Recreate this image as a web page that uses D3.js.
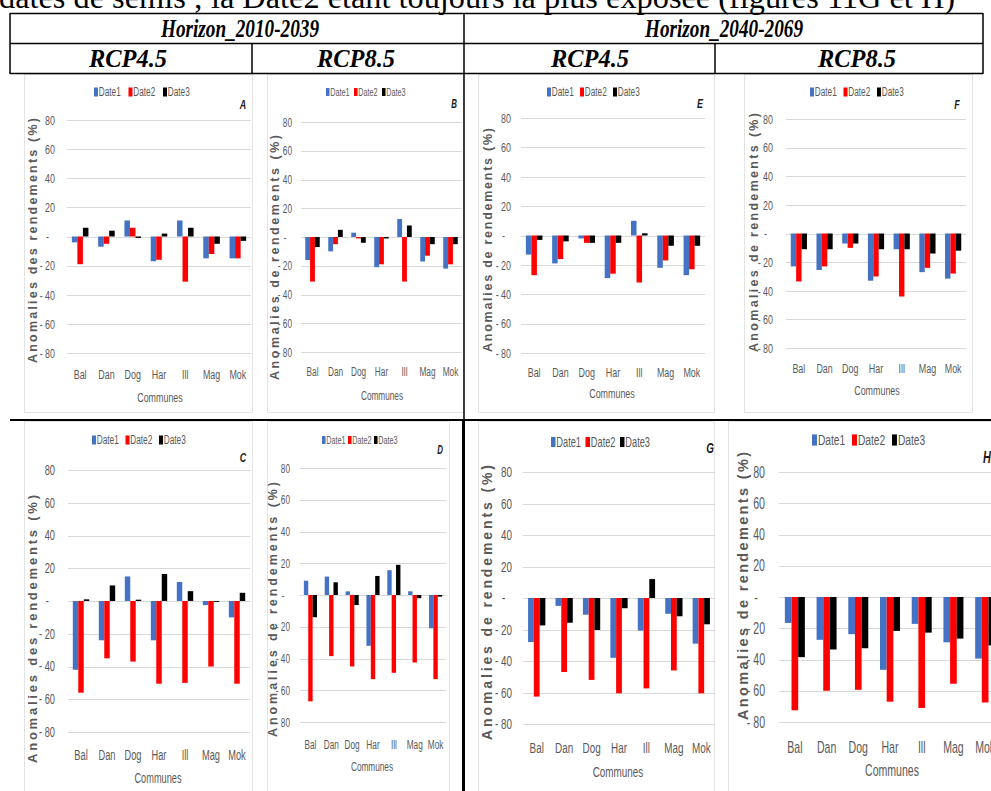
<!DOCTYPE html>
<html>
<head>
<meta charset="utf-8">
<script src="https://d3js.org/d3.v7.min.js"></script>
<style>
body { margin:0; background:#fff; }
svg { display:block; }
.serif { font-family: "Liberation Serif", "Times New Roman", serif; font-weight:bold; font-style:italic; fill:#000; }
.chart text { font-family: "Liberation Sans", Arial, sans-serif; fill:#595959; }
</style>
</head>
<body>
<svg id="fig" width="991" height="791"></svg>
<script>
// categories / series
const communes = ["Bal", "Dan", "Dog", "Har", "Ill", "Mag", "Mok"];
const series = ["Date1", "Date2", "Date3"];
const seriesColors = ["#4472c4", "#ff0000", "#000000"];
const yTicks = [80, 60, 40, 20, 0, -20, -40, -60, -80];

// values: [Date1, Date2, Date3], one entry per commune
const valuesA = [[-4, -7, 11, -17, 11, -15, -15], [-19, -5, 6, -16, -31, -12, -15], [6, 4, -1, 2, 6, -5, -3]];
const valuesB = [[-16, -10, 3, -21, 12.5, -17, -22], [-31, -5, -1, -19, -31, -13, -19], [-7, 5, -4, -1, 8, -5, -5]];
const valuesC = [[-42, -24, 15, -24, 11.6, -2.5, -10], [-56, -35, -37, -50.5, -50, -40, -50.5], [1, 9.5, 0.8, 16.5, 6, -0.6, 5]];
const valuesD = [[9, 11.6, 2.3, -32, 15.6, 2.3, -21], [-67, -38.5, -45, -53, -49, -42.5, -53], [-14, 8, -6.3, 12, 19, -2, -1]];
const valuesE = [[-13, -19, -2, -29, 10, -22, -27], [-27, -16, -5, -26, -32, -17, -23], [-3, -4, -5, -5, 1.5, -7, -7]];
const valuesF = [[-23, -25.5, -7, -33, -11, -27, -31.5], [-33.5, -23, -10, -30, -44, -24, -28], [-11, -11, -7, -11, -11, -14, -12]];
const valuesG = [[-28, -5, -10.6, -38, -20.7, -10, -29], [-62.6, -47, -52, -60.5, -57.4, -46, -60.5], [-17.4, -15.7, -20.3, -6.5, 12, -11.6, -16.7]];
const valuesH = [[-16.6, -27.4, -23.8, -46.6, -17.2, -29, -39.4], [-72.5, -60, -59.4, -67, -71, -55.5, -67.5], [-38.5, -33.6, -32.8, -21.7, -22.8, -26.6, -31]];

const titleDes = "Anomalies des rendements (%)";
const titleDe = "Anomalies de rendements (%)";

// header texts
const caption = "dates de semis ; la Date2 étant toujours la plus exposée (figures 11G et H)";
const horizons = ["Horizon_2010-2039", "Horizon_2040-2069"];
const scenarios = ["RCP4.5", "RCP8.5", "RCP4.5", "RCP8.5"];

// the embedded chart pictures are squeezed sideways
const SQ = 0.66;

// panel layout (pixels)
const panels = [
  {id:"A", values:valuesA, title:titleDes, frame:[24,74,252,412], px:[67,251], yr:[353,120], tickX:55, catY:374, commX:160, commY:397,
   leg:[94,92,34.5], lab:[243,104], tX:33, tY:[118,363], fs:13.5, lfs:12.5, tfs:12.5},
  {id:"B", values:valuesB, title:titleDe, frame:[267,74,463,412], px:[301,462], yr:[352,122], tickX:292, catY:372, commX:382, commY:396,
   leg:[326,92,28], lab:[454,104], tX:275, tY:[135,380], fs:12.5, lfs:11, tfs:12.5},
  {id:"E", values:valuesE, title:titleDe, frame:[478,74,714,412], px:[521,705], yr:[353,118], tickX:511, catY:372, commX:612, commY:393,
   leg:[547,92,33], lab:[700,103], tX:488, tY:[128,352], fs:13.5, lfs:12.5, tfs:12.5},
  {id:"F", values:valuesF, title:titleDe, frame:[744,74,972,412], px:[786,966], yr:[348,119], tickX:773, catY:368, commX:877, commY:390,
   leg:[810,92,33.5], lab:[957,104], tX:754, tY:[113,352], fs:13.5, lfs:12.5, tfs:12.5},
  {id:"C", values:valuesC, title:titleDes, frame:[24,421,252,800], px:[68,250], yr:[732,470], tickX:55, catY:755, commX:158, commY:778,
   leg:[92,440,33.5], lab:[243,457], tX:32, tY:[495,763], fs:14, lfs:12.5, tfs:13},
  {id:"D", values:valuesD, title:titleDe, frame:[267,421,449,800], px:[300,446], yr:[722,468], tickX:290, catY:745, commX:372, commY:767,
   leg:[322,440,26], lab:[440,450], tX:273, tY:[482,737], fs:12.5, lfs:11, tfs:12.5},
  {id:"G", values:valuesG, title:titleDe, frame:[478,421,714,800], px:[523,715], yr:[724,472], tickX:512, catY:748, commX:618, commY:772,
   leg:[551,442,34.5], lab:[710,448], tX:487, tY:[465,740], fs:15, lfs:14, tfs:14},
  {id:"H", values:valuesH, title:titleDe, frame:[728,421,1100,800], px:[779,1001], yr:[722,472], tickX:765, catY:747, commX:892, commY:770,
   leg:[812,440,40], lab:[987,457], tX:743, tY:[452,720], fs:16, lfs:15.5, tfs:14.5}
];

const svg = d3.select("#fig");
svg.append("rect").attr("width", 991).attr("height", 791).attr("fill", "#fff");

function tickLabel(d) {
  if (d === 0) return "-";
  if (d < 0) return "- " + Math.abs(d);
  return String(d);
}

// squeezed text at (x, y)
function sqText(g, x, y, size) {
  return g.append("text")
    .attr("transform", `translate(${x},${y}) scale(${SQ},1)`)
    .attr("dy", "0.35em").attr("font-size", size);
}

function drawPanel(p) {
  const g = svg.append("g").attr("class", "chart");
  const f = p.frame;
  g.append("rect").attr("x", f[0] + 0.5).attr("y", f[1] + 0.5)
    .attr("width", f[2] - f[0]).attr("height", f[3] - f[1])
    .attr("fill", "none").attr("stroke", "#e3e3e3");

  const x0 = d3.scaleBand().domain(communes).range(p.px);
  const groupW = x0.bandwidth() * 0.63;
  const x1 = d3.scaleBand().domain(series).range([0, groupW]);
  const y = d3.scaleLinear().domain([-80, 80]).range(p.yr);

  // gridlines
  g.append("g").selectAll("line").data(yTicks).join("line")
    .attr("x1", p.px[0]).attr("x2", p.px[1])
    .attr("y1", d => Math.round(y(d)) + 0.5).attr("y2", d => Math.round(y(d)) + 0.5)
    .attr("stroke", "#d9d9d9");

  // y tick labels
  const ya = g.append("g").attr("transform", `translate(${p.tickX},0)`)
    .call(d3.axisLeft(y).tickValues(yTicks).tickSize(0).tickPadding(0).tickFormat(tickLabel));
  ya.select(".domain").remove();
  ya.attr("font-size", p.fs).attr("font-family", null);
  ya.selectAll(".tick text")
    .attr("x", d => d === 0 ? -p.fs * 0.45 / SQ : 0)
    .attr("transform", `scale(${SQ},1)`);

  // bars
  g.append("g").selectAll("g").data(communes).join("g")
    .attr("transform", c => `translate(${x0(c) + (x0.bandwidth() - groupW) / 2},0)`)
    .selectAll("rect")
    .data((c, i) => series.map((s, j) => ({s: s, j: j, v: p.values[j][i]})))
    .join("rect")
    .attr("x", d => x1(d.s))
    .attr("width", x1.bandwidth())
    .attr("y", d => y(Math.max(0, d.v)))
    .attr("height", d => Math.abs(y(d.v) - y(0)))
    .attr("fill", d => seriesColors[d.j]);

  // category labels
  const xa = g.append("g").attr("transform", `translate(0,${p.catY})`)
    .call(d3.axisBottom(x0).tickSize(0).tickPadding(0));
  xa.select(".domain").remove();
  xa.attr("font-size", p.fs).attr("font-family", null);
  xa.selectAll(".tick text").attr("y", 0).attr("dy", "0.35em").attr("transform", `scale(${SQ},1)`);

  sqText(g, p.commX, p.commY, p.fs).attr("text-anchor", "middle").text("Communes");

  // y axis title
  const tc = (p.tY[0] + p.tY[1]) / 2;
  g.append("text")
    .attr("transform", `translate(${p.tX},${tc}) rotate(-90)`)
    .attr("text-anchor", "middle").attr("dy", "0.35em")
    .attr("font-size", p.tfs).attr("font-weight", "bold")
    .attr("textLength", p.tY[1] - p.tY[0]).attr("lengthAdjust", "spacing")
    .text(p.title);

  // legend
  const lg = g.append("g").selectAll("g").data(series).join("g")
    .attr("transform", (s, i) => `translate(${p.leg[0] + i * p.leg[2]},${p.leg[1]})`);
  lg.append("rect").attr("x", 0).attr("y", -p.lfs * 0.36).attr("width", p.lfs * 0.32).attr("height", p.lfs * 0.72)
    .attr("fill", (s, i) => seriesColors[i]);
  lg.append("text").attr("transform", `translate(${p.lfs * 0.38},0) scale(${SQ},1)`)
    .attr("dy", "0.35em").attr("font-size", p.lfs).text(s => s);

  // panel letter
  sqText(g, p.lab[0], p.lab[1], p.lfs + 1)
    .attr("text-anchor", "middle")
    .attr("font-weight", "bold").attr("font-style", "italic")
    .style("fill", "#1a1a1a").text(p.id);
}

panels.forEach(drawPanel);

// table and header on top
const tbl = svg.append("g");
tbl.append("text").attr("class", "serif").attr("x", -1).attr("y", 8)
  .attr("font-size", 31).attr("textLength", 956).attr("lengthAdjust", "spacingAndGlyphs")
  .style("font-weight", "normal").style("font-style", "normal").text(caption);

const hLines = [[10, 983, 13.5], [10, 983, 43.5], [10, 983, 73.5]];
tbl.selectAll(".hl").data(hLines).join("line")
  .attr("x1", d => d[0]).attr("x2", d => d[1]).attr("y1", d => d[2]).attr("y2", d => d[2])
  .attr("stroke", "#000").attr("stroke-width", 1.5);
tbl.append("line").attr("x1", 10).attr("x2", 991).attr("y1", 420).attr("y2", 420).attr("stroke", "#000").attr("stroke-width", 2.2);
const vLines = [[10, 13, 74], [983, 13, 74], [252, 43, 74], [715, 43, 74]];
tbl.selectAll(".vl").data(vLines).join("line")
  .attr("x1", d => d[0]).attr("x2", d => d[0]).attr("y1", d => d[1]).attr("y2", d => d[2])
  .attr("stroke", "#000").attr("stroke-width", 1.5);
tbl.append("line").attr("x1", 464).attr("x2", 464).attr("y1", 13).attr("y2", 420).attr("stroke", "#000").attr("stroke-width", 1.5);
tbl.append("line").attr("x1", 463.5).attr("x2", 463.5).attr("y1", 420).attr("y2", 791).attr("stroke", "#000").attr("stroke-width", 3);

const hx = d3.scalePoint().domain(horizons).range([240, 724]);
tbl.selectAll(".hz").data(horizons).join("text").attr("class", "serif")
  .attr("x", d => hx(d)).attr("y", 37).attr("text-anchor", "middle").attr("font-size", 26)
  .attr("textLength", 158).attr("lengthAdjust", "spacingAndGlyphs").text(d => d);
const rcpX = [128, 356, 590, 857];
tbl.selectAll(".rcp").data(scenarios).join("text").attr("class", "serif")
  .attr("x", (d, i) => rcpX[i]).attr("y", 67).attr("text-anchor", "middle").attr("font-size", 26)
  .attr("textLength", 78).attr("lengthAdjust", "spacingAndGlyphs").text(d => d);
</script>
</body>
</html>
